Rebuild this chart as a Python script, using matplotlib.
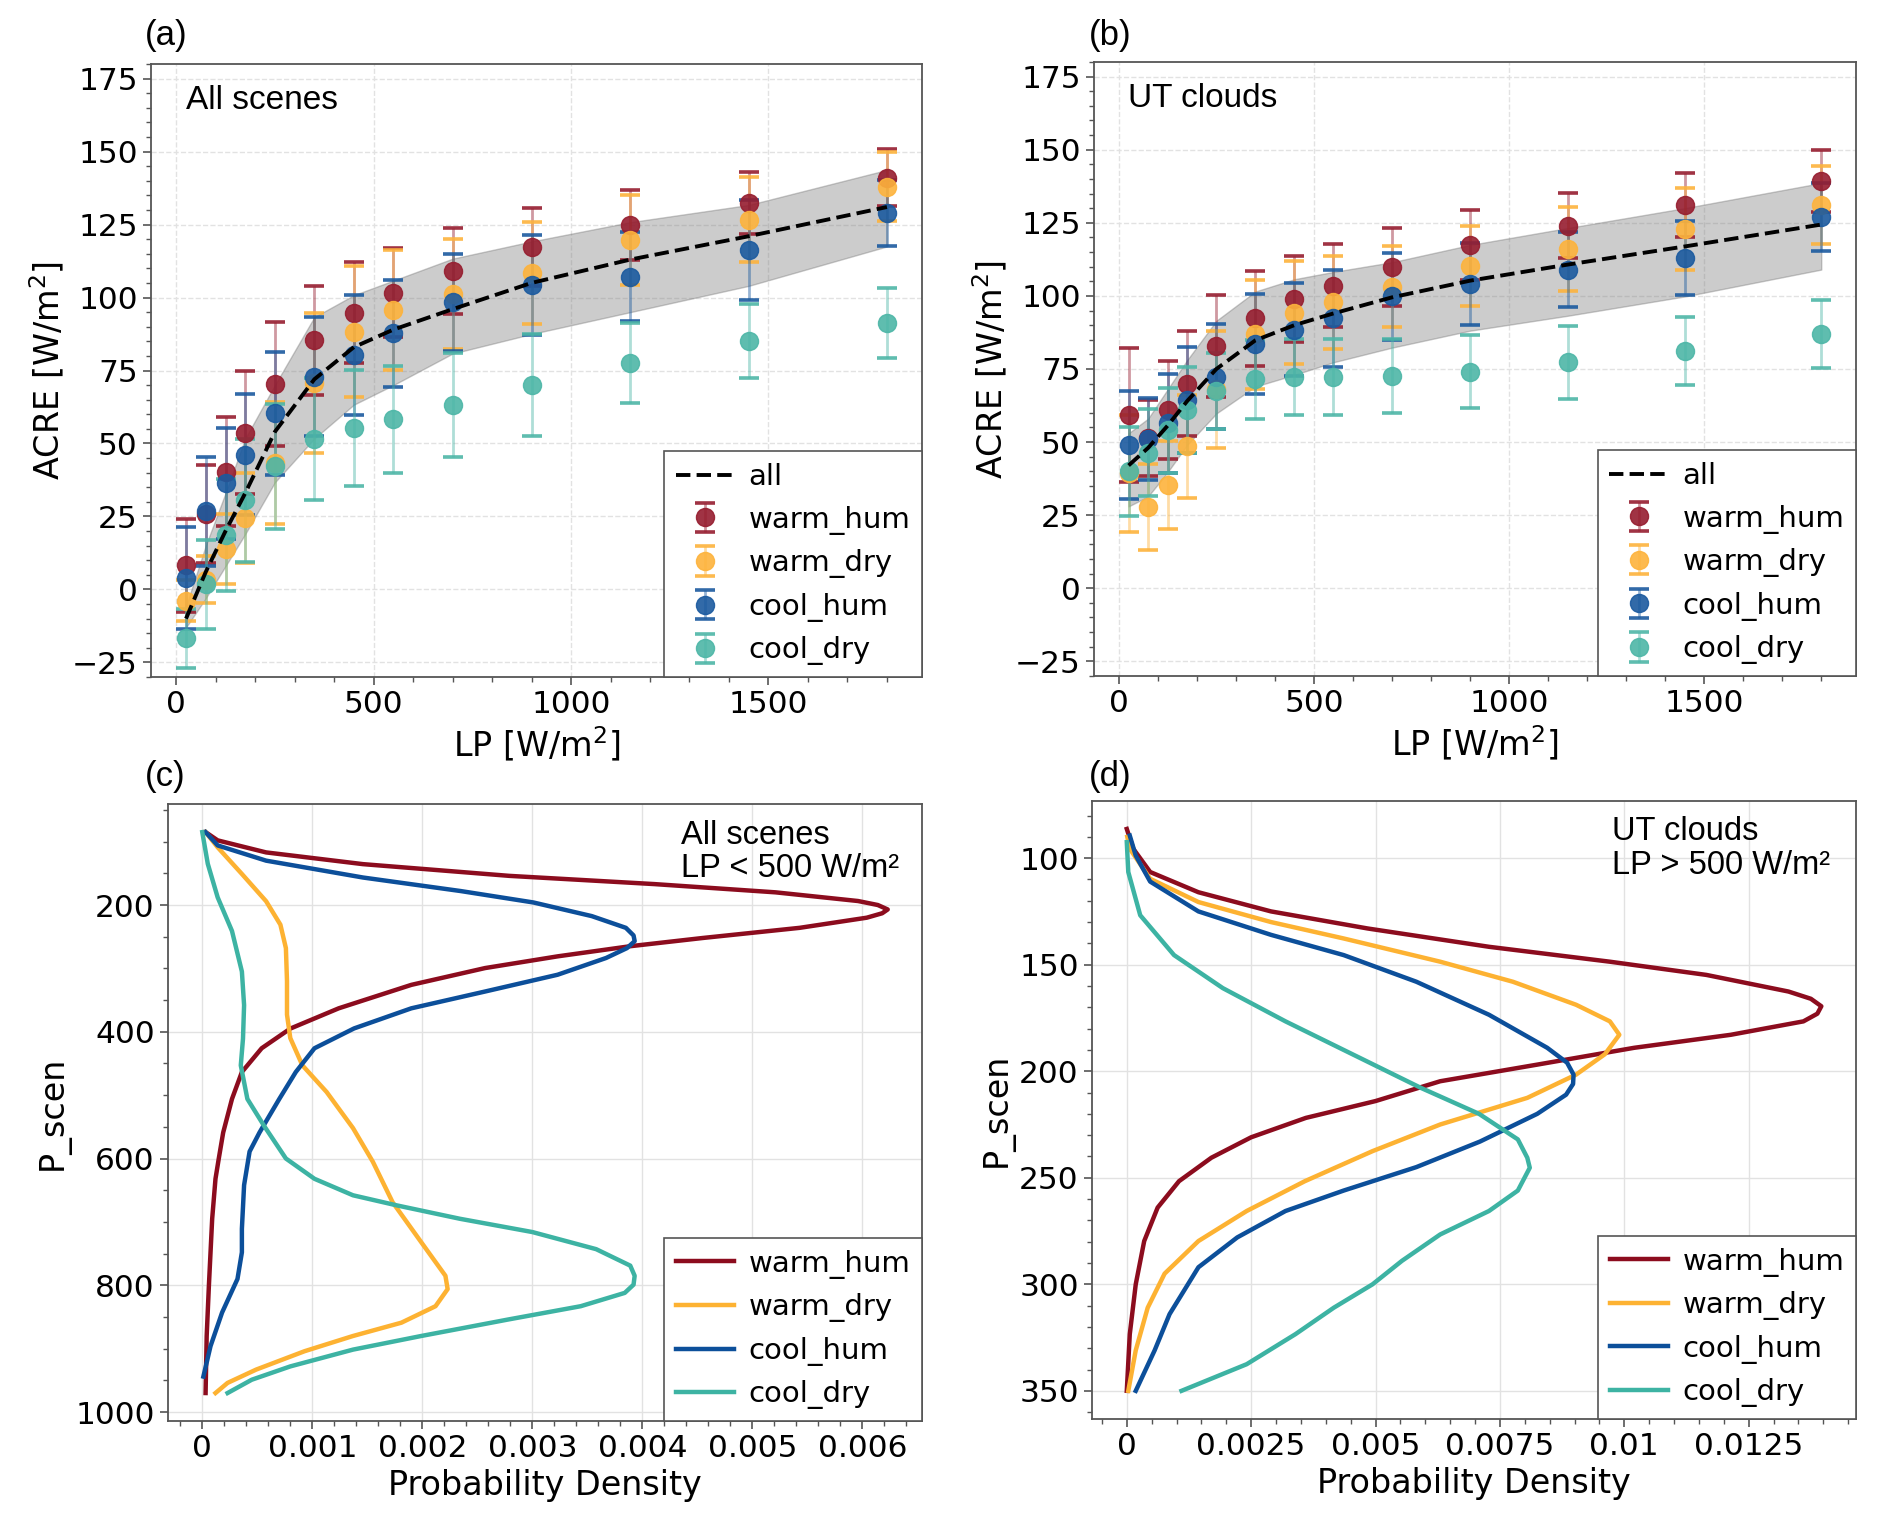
import matplotlib
matplotlib.use('Agg')
import matplotlib.pyplot as plt
from matplotlib.ticker import AutoMinorLocator, MultipleLocator, FuncFormatter

# ---- data ----
lp = [25, 75, 125, 175, 250, 350, 450, 550, 700, 900, 1150, 1450, 1800]
groups = ['warm_hum', 'warm_dry', 'cool_hum', 'cool_dry']

# (a) all scenes
a_all = [-10, 6, 20, 33, 54, 72, 83, 89, 96, 105, 113, 121, 131]
a_lo = [-13, -3, 8, 19, 36.7, 51.7, 63.3, 70, 80.8, 87.5, 95, 104, 117.5]
a_hi = [-5.8, 15, 33, 51.7, 70, 93.3, 100.8, 105.8, 113.3, 119.2, 125.8, 131.7, 143.7]
a_wh = [8.3, 25.8, 40.3, 53.7, 70.5, 85.3, 94.8, 101.7, 109, 117.2, 124.8, 132.3, 141]
a_wh_err = [16, 16.7, 18.7, 21, 21.2, 18.7, 17.2, 15.3, 14.7, 13.3, 11.9, 10.7, 9.8]
a_wd = [-3.8, 3.3, 13.8, 24.5, 43.3, 70.8, 88.3, 95.7, 101.2, 108.3, 119.7, 126.7, 138]
a_wd_err = [7, 8, 12, 15.5, 21, 24, 22.5, 20.6, 19, 17.5, 15.3, 14.5, 11.7]
a_ch = [3.8, 26.7, 36.3, 46.2, 60.3, 72.8, 80.3, 87.7, 98.3, 104.3, 107.2, 116.3, 128.8]
a_ch_err = [17.5, 18.7, 19, 20.8, 21, 20.4, 20.5, 18.3, 16.7, 17.2, 15.2, 17, 11.3]
a_cd = [-16.8, 1.7, 18.7, 30.5, 42.2, 51.5, 55.3, 58.3, 63.3, 70, 77.5, 85.2, 91.3]
a_cd_err = [10.2, 15.3, 19.2, 21, 21.4, 21, 19.8, 18.3, 17.8, 17.5, 13.8, 12.6, 12]

# (b) UT clouds
b_all = [42, 48, 55.6, 64, 75, 84.8, 90, 94, 99.5, 105.2, 110.7, 116.9, 124.4]
b_lo = [28, 31.4, 39.7, 49, 59.8, 69, 73, 77.3, 82.3, 88.1, 93.2, 99.8, 109]
b_hi = [53, 58, 68, 78, 91.5, 101.5, 105.7, 108.2, 111.5, 117.4, 123.2, 130, 138.6]
b_wh = [59.3, 51.4, 61, 70, 82.8, 92.3, 99, 103.5, 109.8, 117.4, 124, 131, 139.4]
b_wh_err = [23, 13, 16.8, 18, 17.5, 16.2, 14.7, 14.2, 13.4, 12, 11.2, 11, 10.6]
b_wd = [39.4, 27.7, 35.2, 48.6, 68, 86.8, 94.3, 97.8, 103.2, 110.2, 116, 122.9, 131]
b_wd_err = [20, 14.7, 15, 17.6, 20, 18.5, 17.5, 16, 14, 13.8, 14.4, 14.1, 13.4]
b_ch = [48.9, 51.1, 56.4, 64.4, 72.3, 83.6, 88.5, 92.3, 99.8, 104.2, 109, 112.9, 127]
b_ch_err = [18.4, 14, 17, 18, 18, 17, 16, 16.7, 15, 14, 12.8, 12.6, 11.5]
b_cd = [40, 46.4, 54, 61, 67.3, 71.5, 72.3, 72.3, 72.6, 74, 77.3, 81.1, 87]
b_cd_err = [15.3, 15, 14.6, 14.6, 13, 13.5, 13, 12.9, 12.8, 12.5, 12.5, 11.7, 11.5]

# (c) PDF of P_scen, all scenes, LP < 500
c_wh_p = [85, 98, 117, 135.5, 154, 167, 180, 193.7, 200, 207, 213, 220, 236, 252, 265, 281,
          299.5, 326, 363, 395, 426, 463.5, 506, 559, 600, 632, 695, 801, 880, 970]
c_wh = [0.00003, 0.00014, 0.00058, 0.00146, 0.00279, 0.00411, 0.00521, 0.00596, 0.00614,
        0.00623, 0.00618, 0.00604, 0.00543, 0.00455, 0.00389, 0.00323, 0.00257, 0.0019,
        0.00124, 0.0008, 0.00054, 0.00036, 0.00027, 0.00019, 0.00015, 0.00012, 0.00009,
        0.00006, 0.00004, 0.00003]
c_wd_p = [85, 109, 151, 194, 231, 268, 320, 373, 410, 453, 495, 552, 605, 669, 732, 785,
          806, 833, 859, 880, 904, 933, 954, 970]
c_wd = [0.00003, 0.00014, 0.00036, 0.00058, 0.00071, 0.00076, 0.00077, 0.00077, 0.0008,
        0.00091, 0.00113, 0.00137, 0.00155, 0.00173, 0.00199, 0.00221, 0.00223, 0.00212,
        0.00181, 0.00137, 0.00093, 0.00049, 0.00023, 0.00012]
c_ch_p = [85, 106, 130, 156.6, 178, 196, 217.5, 236, 248, 257, 268, 283.6, 310, 336.5, 363,
          394.7, 426, 463.5, 506, 559, 589, 642, 711, 748, 790, 843, 896, 944]
c_ch = [0.00003, 0.00014, 0.00058, 0.00146, 0.00235, 0.00301, 0.00354, 0.00385, 0.00392,
        0.00393, 0.00386, 0.00367, 0.00323, 0.00257, 0.0019, 0.00138, 0.00102, 0.00085,
        0.0007, 0.00052, 0.00043, 0.00038, 0.00036, 0.00036, 0.00032, 0.00018, 0.000075,
        0.00001]
c_cd_p = [85, 135, 188, 241, 305, 358, 411, 453, 506, 548, 600, 632, 658, 674, 695, 716,
          743, 769, 785, 799, 812, 833, 854, 880, 901.5, 928, 949, 970]
c_cd = [0.0, 0.00005, 0.00014, 0.00027, 0.00036, 0.00038, 0.00037, 0.00035, 0.00041,
        0.00056, 0.00076, 0.00102, 0.00137, 0.00177, 0.00234, 0.003, 0.00358, 0.00389,
        0.00393, 0.00392, 0.00384, 0.00344, 0.00278, 0.00199, 0.00137, 0.0008, 0.00045,
        0.00023]

# (d) PDF of P_scen, UT clouds, LP > 500
d_wh_p = [86.3, 95.6, 106.5, 116, 125, 133, 141.6, 148.6, 154.8, 162.6, 166, 169.5, 173,
          176.6, 182.9, 189, 196.9, 204.7, 214, 221.9, 231, 240.6, 251.6, 264, 279.7, 300,
          323.4, 350]
d_wh = [0.0, 0.00013, 0.00047, 0.00144, 0.0029, 0.00484, 0.00728, 0.00971, 0.01165, 0.0133,
        0.01375, 0.01396, 0.01388, 0.0136, 0.01214, 0.0102, 0.00825, 0.0063, 0.005, 0.0036,
        0.0025, 0.0017, 0.00105, 0.00062, 0.00035, 0.00018, 0.00006, 0.0]
d_wd_p = [90, 95.6, 109.7, 120.6, 130, 137.7, 148.6, 158, 168.8, 176.6, 182.9, 192, 201.6,
          212.5, 225, 237.5, 251.6, 265.6, 279.7, 295, 311, 331, 350]
d_wd = [0.00001, 0.00006, 0.00047, 0.00144, 0.0029, 0.00436, 0.0063, 0.00776, 0.00903,
        0.00971, 0.0099, 0.00961, 0.00903, 0.00805, 0.0063, 0.00494, 0.00358, 0.00241,
        0.00144, 0.00076, 0.00042, 0.00018, 0.00003]
d_ch_p = [89.4, 98.8, 111, 125, 136, 145.5, 158, 173.5, 189, 196, 201.6, 206, 211, 220, 233,
          245, 256, 265.6, 278, 292, 314, 331, 350]
d_ch = [0.00006, 0.00018, 0.00047, 0.00144, 0.0029, 0.00436, 0.00582, 0.00728, 0.00845,
        0.00885, 0.00898, 0.00897, 0.00883, 0.00825, 0.0071, 0.00582, 0.00436, 0.00319,
        0.00222, 0.00144, 0.00086, 0.00056, 0.00018]
d_cd_p = [92.5, 106.5, 126.8, 145.5, 161, 176.6, 192.2, 207.8, 220, 232, 240.6, 245.3, 256,
          265.6, 276.6, 289, 300, 311, 323.4, 337.5, 350]
d_cd = [0.0, 0.00003, 0.00027, 0.00095, 0.00193, 0.00319, 0.00455, 0.00591, 0.00708, 0.00786,
        0.00805, 0.0081, 0.00786, 0.00728, 0.0063, 0.00553, 0.00494, 0.00416, 0.00339,
        0.00241, 0.0011]

mk_cols = ['#961d2f', '#fdb33c', '#1b5a9f', '#4db6a7']
ln_cols = ['#8c0c1e', '#fdb232', '#0c4f9a', '#3db3a3']
spine_col = '#555555'
arial = 'Liberation Sans'

fig = plt.figure(figsize=(18.92, 15.31), dpi=100)
ax_a = fig.add_axes([0.0798, 0.5578, 0.4075, 0.4004])
ax_b = fig.add_axes([0.5782, 0.5585, 0.4027, 0.4010])
ax_c = fig.add_axes([0.0888, 0.0718, 0.3985, 0.4030])
ax_d = fig.add_axes([0.5772, 0.0732, 0.4038, 0.4037])


def style(ax, gls):
    for s in ax.spines.values():
        s.set_color(spine_col)
        s.set_linewidth(1.3)
    ax.tick_params(which='major', length=6, width=1.2, color=spine_col, labelsize=22.5)
    ax.tick_params(which='minor', length=3.5, width=1, color=spine_col)
    ax.grid(True, which='major', ls=gls, lw=1, color='#e2e2e2')
    ax.set_axisbelow(True)


def acre_panel(ax, allv, lo, hi, vals, errs, note):
    ax.fill_between(lp, lo, hi, facecolor='gray', alpha=0.4, edgecolor='#777777', lw=1, zorder=1)
    ax.plot(lp, allv, ls='--', color='k', lw=2.8, label='all', zorder=6)
    for name, col, y, e in zip(groups, mk_cols, vals, errs):
        cont = ax.errorbar(lp, y, yerr=e, fmt='o', color=col, mec=col, ms=13, capsize=7,
                           capthick=2.6, elinewidth=2, alpha=0.9, label=name, zorder=3)
        for bl in cont[2]:
            bl.set_alpha(0.45)
    ax.set_ylim(-30, 180)
    ax.yaxis.set_major_locator(MultipleLocator(25))
    ax.xaxis.set_major_locator(MultipleLocator(500))
    ax.yaxis.set_minor_locator(AutoMinorLocator(5))
    ax.xaxis.set_minor_locator(AutoMinorLocator(5))
    style(ax, '--')
    ax.set_xlabel('LP [W/m$^2$]', fontsize=24)
    ax.set_ylabel('ACRE [W/m$^2$]', fontsize=24)
    ax.text(0.045, 0.965, note, transform=ax.transAxes, ha='left', va='top',
            fontsize=24, family=arial)
    leg = ax.legend(loc='lower right', fontsize=21, borderaxespad=0, fancybox=False,
                    framealpha=1, edgecolor=spine_col, handletextpad=0.5)
    leg.get_frame().set_linewidth(1.2)


def pdf_panel(ax, curves, note, xstep):
    for name, col, (p, v) in zip(groups, ln_cols, curves):
        ax.plot(v, p, color=col, lw=3.2, label=name, solid_joinstyle='round')
    ax.invert_yaxis()
    ax.xaxis.set_major_locator(MultipleLocator(xstep))
    ax.xaxis.set_major_formatter(FuncFormatter(lambda x, pos: '%g' % round(x, 6)))
    ax.xaxis.set_minor_locator(AutoMinorLocator(5))
    ax.yaxis.set_minor_locator(AutoMinorLocator())
    style(ax, '-')
    ax.set_xlabel('Probability Density', fontsize=24)
    ax.set_ylabel('P_scen', fontsize=24)
    ax.text(0.68, 0.975, note, transform=ax.transAxes, ha='left', va='top',
            fontsize=23.5, family=arial, linespacing=1.1)
    leg = ax.legend(loc='lower right', fontsize=21, borderaxespad=0, fancybox=False,
                    framealpha=1, edgecolor=spine_col, handletextpad=0.5)
    leg.get_frame().set_linewidth(1.2)


acre_panel(ax_a, a_all, a_lo, a_hi, [a_wh, a_wd, a_ch, a_cd],
           [a_wh_err, a_wd_err, a_ch_err, a_cd_err], 'All scenes')
acre_panel(ax_b, b_all, b_lo, b_hi, [b_wh, b_wd, b_ch, b_cd],
           [b_wh_err, b_wd_err, b_ch_err, b_cd_err], 'UT clouds')
pdf_panel(ax_c, [(c_wh_p, c_wh), (c_wd_p, c_wd), (c_ch_p, c_ch), (c_cd_p, c_cd)],
          'All scenes\nLP < 500 W/m²', 0.001)
pdf_panel(ax_d, [(d_wh_p, d_wh), (d_wd_p, d_wd), (d_ch_p, d_ch), (d_cd_p, d_cd)],
          'UT clouds\nLP > 500 W/m²', 0.0025)

for lab, x, y in [('(a)', 0.0766, 0.9765), ('(b)', 0.5756, 0.9765),
                  ('(c)', 0.0766, 0.4931), ('(d)', 0.5756, 0.4931)]:
    fig.text(x, y, lab, fontsize=25, family=arial, ha='left', va='center')

fig.savefig('out.png', dpi=100)
